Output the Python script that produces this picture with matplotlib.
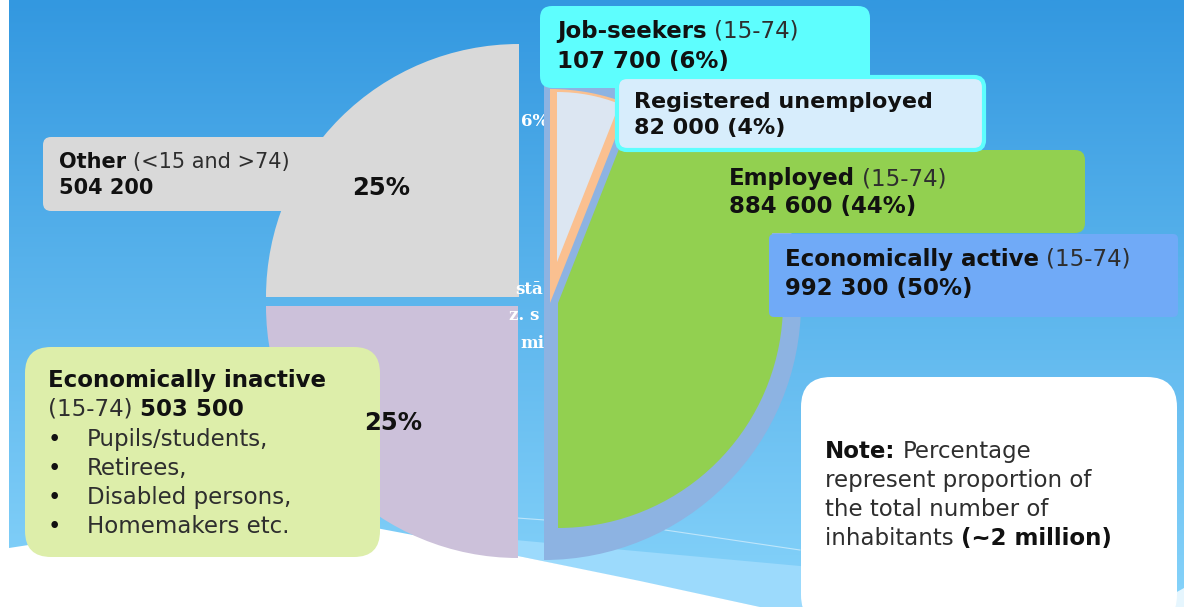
import matplotlib
matplotlib.use("Agg")
import matplotlib.pyplot as plt
from matplotlib.patches import Wedge, FancyBboxPatch, Polygon
from matplotlib.colors import to_rgb
import numpy as np

W, H = 1184, 607

# population structure
categories = ["Economically active", "Employed", "Job-seekers",
              "Registered unemployed", "Other", "Economically inactive"]
counts = [992300, 884600, 107700, 82000, 504200, 503500]
shares = [50, 44, 6, 4, 25, 25]
age_groups = ["(15-74)", "(15-74)", "(15-74)", "", "(<15 and >74)", "(15-74)"]
inactive_items = ["Pupils/students,", "Retirees,", "Disabled persons,", "Homemakers etc."]

BOLD_C = "#111111"
REG_C = "#2e2e2e"


def Y(y):
    # picture rows run downwards, axes run upwards
    return H - y


def num(v):
    return f"{v:,}".replace(",", " ")


fig = plt.figure(figsize=(W / 100, H / 100), dpi=100)
ax = fig.add_axes([0, 0, 1, 1])
ax.set_xlim(0, W)
ax.set_ylim(0, H)
ax.axis("off")
renderer = fig.canvas.get_renderer()

# background: blue gradient, white strip on the left, white hill at the bottom
top = np.array(to_rgb("#3398e0"))
bot = np.array(to_rgb("#86d3fa"))
g = np.linspace(0, 1, 300)[:, None, None]
ax.imshow(top + (bot - top) * g, extent=(9, W, 0, H), aspect="auto",
          interpolation="bilinear", zorder=0)
band = [(515, 540), (800, 566), (1184, 604), (1184, 607), (760, 607), (518, 556)]
ax.add_patch(Polygon([(x, Y(y)) for x, y in band], closed=True,
                     facecolor="#9cdafc", edgecolor="none", zorder=0.5))
ax.plot([517, 545], [Y(518), Y(520)], color="white", lw=0.8, alpha=0.5, zorder=0.6)
ax.plot([665, 800], [Y(530), Y(550)], color="white", lw=0.8, alpha=0.5, zorder=0.6)
ax.add_patch(Polygon([(1150, Y(607)), (1184, Y(588)), (1184, Y(607))], closed=True,
                     facecolor="#e6f6fe", edgecolor="none", zorder=0.6))
hill = [(9, 548), (100, 534), (200, 525), (300, 522), (376, 528), (450, 542),
        (518, 556), (640, 581), (760, 607), (0, 607), (0, 548)]
ax.add_patch(Polygon([(x, Y(y)) for x, y in hill], closed=True,
                     facecolor="white", edgecolor="none", zorder=0.7))

# left half: other / inactive quarters
a_other = shares[4] * 3.6
a_inact = shares[5] * 3.6
ax.add_patch(Wedge((519, Y(297)), 253, 90, 90 + a_other, facecolor="#d9d9d9",
                   edgecolor="none", zorder=2))
ax.add_patch(Wedge((518, Y(306)), 252, 90 + a_other, 90 + a_other + a_inact,
                   facecolor="#ccc1da", edgecolor="none", zorder=2))

# remains of hidden labels behind the pie
for s, x, y in [("6%", 521, 126), ("stā", 515, 294), ("z. s", 509, 320), ("mi", 520, 348)]:
    ax.text(x, Y(y), s, fontsize=12, fontweight="bold", family="DejaVu Serif",
            color="white", va="baseline", zorder=2.5)

# right half: economically active ring, employed, job-seekers
a_act = shares[0] * 3.6
a_emp = shares[1] * 3.6
a_job = shares[2] * 3.6
ax.add_patch(Wedge((544, Y(303)), 257, -90, -90 + a_act, facecolor="#8db3e2",
                   edgecolor="none", zorder=3))
ax.add_patch(Wedge((558, Y(303)), 225, -90, -90 + a_emp, facecolor="#92d050",
                   edgecolor="none", zorder=3.1))
ax.add_patch(Wedge((550, Y(303)), 214, -90 + a_emp, -90 + a_emp + a_job,
                   facecolor="#fac090", edgecolor="none", zorder=3.1))
ax.add_patch(Wedge((557, Y(262)), 170, -90 + a_emp, -90 + a_emp + a_job,
                   facecolor="#dce6f2", edgecolor="none", zorder=3.2))


def box(x0, y0, x1, y1, color, r, z, edge="none", lw=0):
    ax.add_patch(FancyBboxPatch((x0, Y(y1)), x1 - x0, y1 - y0,
                                boxstyle=f"round,pad=0,rounding_size={r}",
                                facecolor=color, edgecolor=edge, linewidth=lw,
                                zorder=z))


box(43, 137, 340, 211, "#d9d9d9", 8, 2.1)
box(25, 347, 380, 557, "#ddeeaa", 26, 4)
box(540, 6, 870, 88, "#5efefe", 12, 4)
box(620, 150, 1085, 233, "#92d050", 10, 4)
box(769, 234, 1178, 317, "#70aaf7", 5, 4.1)
box(617, 77, 984, 150, "#d7edfc", 10, 4.2, edge="#5efefe", lw=3)
box(801, 377, 1177, 625, "white", 30, 4.3)


def text_w(s, size, weight):
    t = ax.text(0, 0, s, fontsize=size, fontweight=weight)
    w = t.get_window_extent(renderer).width
    t.remove()
    return w


def rich(x, y, parts, size=16):
    for s, weight in parts:
        n = len(s) - len(s.lstrip(" "))
        if n:
            x += n * (text_w("x x", size, weight) - text_w("xx", size, weight))
            s = s.lstrip(" ")
        t = ax.text(x, Y(y), s, fontsize=size, fontweight=weight,
                    color=BOLD_C if weight == "bold" else REG_C,
                    va="baseline", ha="left", zorder=6)
        x += t.get_window_extent(renderer).width


fs = 16.5
rich(557, 38, [(categories[2], "bold"), (" " + age_groups[2], "normal")], fs)
rich(557, 68, [(f"{num(counts[2])} ({shares[2]}%)", "bold")], fs)
rich(634, 108, [(categories[3], "bold")], 16)
rich(634, 134, [(f"{num(counts[3])} ({shares[3]}%)", "bold")], 16)
rich(729, 185, [(categories[1].split()[0], "bold"), (" " + age_groups[1], "normal")], fs)
rich(729, 213, [(f"{num(counts[1])} ({shares[1]}%)", "bold")], fs)
rich(785, 266, [(categories[0], "bold"), (" " + age_groups[0], "normal")], fs)
rich(785, 295, [(f"{num(counts[0])} ({shares[0]}%)", "bold")], fs)
rich(59, 168, [(categories[4], "bold"), (" " + age_groups[4], "normal")], 15)
rich(59, 194, [(num(counts[4]), "bold")], 15)
rich(48, 387, [(categories[5], "bold")], fs)
rich(48, 416, [(age_groups[5] + " ", "normal"), (num(counts[5]), "bold")], fs)
for i, item in enumerate(inactive_items):
    yb = 446 + i * 29
    ax.text(48, Y(yb), "•", fontsize=fs, color=BOLD_C, va="baseline", zorder=6)
    rich(87, yb, [(item, "normal")], fs)

rich(825, 458, [("Note:", "bold"), (" Percentage", "normal")], fs)
rich(825, 487, [("represent proportion of", "normal")], fs)
rich(825, 516, [("the total number of", "normal")], fs)
rich(825, 545, [("inhabitants ", "normal"), ("(~2 million)", "bold")], fs)

ax.text(381, Y(195), f"{shares[4]}%", fontsize=17.5, fontweight="bold",
        color=BOLD_C, ha="center", va="baseline", zorder=6)
ax.text(393, Y(430), f"{shares[5]}%", fontsize=17.5, fontweight="bold",
        color=BOLD_C, ha="center", va="baseline", zorder=6)

fig.savefig("out.png", dpi=100)
